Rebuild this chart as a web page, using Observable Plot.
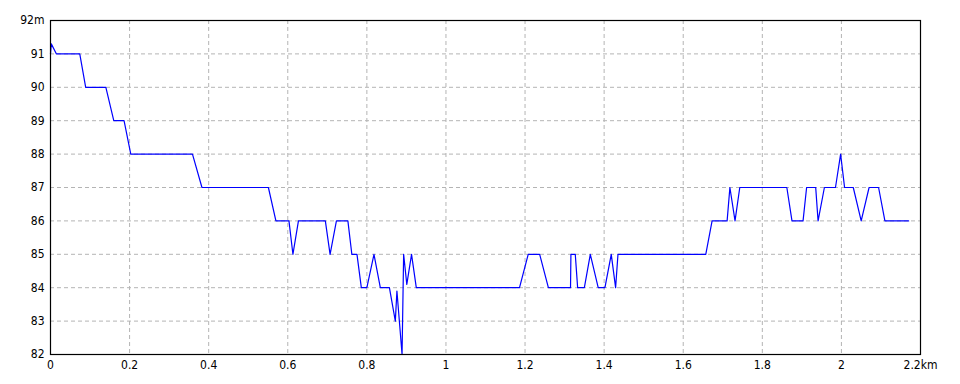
<!DOCTYPE html>
<html>
<head>
<meta charset="utf-8">
<script src="https://cdn.jsdelivr.net/npm/d3@7"></script>
<script src="https://cdn.jsdelivr.net/npm/@observablehq/plot@0.6"></script>
<style>
  html, body { margin: 0; padding: 0; background: #fff; }
  #chart { width: 960px; height: 384px; }
</style>
</head>
<body>
<div id="chart"></div>
<script>
// distance (km) and elevation (m)
const distanceKm = [
  0, 0.002, 0.015, 0.074, 0.089, 0.14, 0.160, 0.186, 0.203, 0.359, 0.383,
  0.551, 0.570, 0.603, 0.613, 0.627, 0.695, 0.707, 0.723, 0.752, 0.762,
  0.775, 0.786, 0.800, 0.818, 0.834, 0.857, 0.872, 0.876, 0.889, 0.893,
  0.901, 0.913, 0.925, 1.186, 1.208, 1.237, 1.259, 1.315, 1.316, 1.327,
  1.333, 1.350, 1.365, 1.385, 1.402, 1.418, 1.429, 1.435, 1.657, 1.673,
  1.711, 1.718, 1.731, 1.743, 1.862, 1.875, 1.903, 1.912, 1.935, 1.941,
  1.957, 1.985, 1.998, 2.008, 2.030, 2.050, 2.070, 2.094, 2.110, 2.170
];
const elevationM = [
  91, 91.3, 91, 91, 90, 90, 89, 89, 88, 88, 87,
  87, 86, 86, 85, 86, 86, 85, 86, 86, 85,
  85, 84, 84, 85, 84, 84, 83, 83.9, 82, 85,
  84.1, 85, 84, 84, 85, 85, 84, 84, 85, 85,
  84, 84, 85, 84, 84, 85, 84, 85, 85, 86,
  86, 87, 86, 87, 87, 86, 86, 87, 87, 86,
  87, 87, 88, 87, 87, 86, 87, 87, 86, 86
];
const xTicks = [0, 0.2, 0.4, 0.6, 0.8, 1, 1.2, 1.4, 1.6, 1.8, 2, 2.2];
const yTicks = [82, 83, 84, 85, 86, 87, 88, 89, 90, 91, 92];
const xTickLabels = ["0", "0.2", "0.4", "0.6", "0.8", "1", "1.2", "1.4", "1.6", "1.8", "2", "2.2km"];
const yTickLabels = ["82", "83", "84", "85", "86", "87", "88", "89", "90", "91", "92m"];

const points = distanceKm.map((d, i) => ({d, e: elevationM[i]}));
const font = "'Liberation Sans Narrow', 'DejaVu Sans Condensed', 'Liberation Sans', sans-serif";
const fx = (d) => xTickLabels[xTicks.indexOf(d)];
const fy = (d) => yTickLabels[yTicks.indexOf(d)];

const chart = Plot.plot({
  width: 960,
  height: 384,
  marginLeft: 50,
  marginRight: 40,
  marginTop: 20,
  marginBottom: 30,
  style: {background: "#fff", fontFamily: font, fontSize: "12px", color: "#000"},
  x: {domain: [0, 2.2], label: null},
  y: {domain: [82, 92], label: null},
  marks: [
    Plot.ruleX(xTicks.slice(1, -1), {stroke: "#b4b4b4", strokeDasharray: "4,3", strokeOpacity: 1}),
    Plot.ruleY(yTicks.slice(1, -1), {stroke: "#b4b4b4", strokeDasharray: "4,3", strokeOpacity: 1}),
    Plot.line(points, {x: "d", y: "e", stroke: "#0000ff", strokeWidth: 1.2}),
    Plot.frame({stroke: "#000", strokeWidth: 1.2}),
    Plot.axisX({ticks: xTicks, tickFormat: fx, tickSize: 0, tickPadding: 6, fontSize: 12, label: null}),
    Plot.axisY({ticks: yTicks, tickFormat: fy, tickSize: 0, tickPadding: 6, fontSize: 12, label: null})
  ]
});
document.getElementById("chart").appendChild(chart);
</script>
</body>
</html>
